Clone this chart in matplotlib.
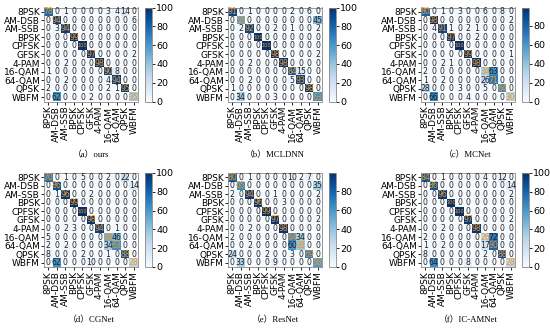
import matplotlib
matplotlib.use('Agg')
from matplotlib import pyplot as plt
import numpy as np

classes = ['8PSK', 'AM-DSB', 'AM-SSB', 'BPSK', 'CPFSK', 'GFSK',
           '4-PAM', '16-QAM', '64-QAM', 'QPSK', 'WBFM']

cm_ours = [
    [78, 0, 1, 0, 0, 0, 0, 3, 4, 14, 0],
    [0, 94, 0, 0, 0, 0, 0, 0, 0, 0, 6],
    [0, 3, 94, 0, 0, 0, 0, 0, 0, 0, 0],
    [0, 0, 0, 99, 0, 0, 0, 0, 0, 0, 0],
    [0, 0, 0, 0, 100, 0, 0, 0, 0, 0, 0],
    [0, 0, 0, 0, 0, 97, 0, 0, 0, 0, 2],
    [0, 0, 2, 0, 0, 0, 98, 0, 0, 0, 0],
    [1, 0, 0, 0, 0, 0, 0, 90, 8, 0, 0],
    [0, 0, 2, 0, 0, 0, 0, 4, 94, 0, 0],
    [2, 0, 0, 0, 0, 0, 0, 2, 1, 95, 0],
    [0, 62, 0, 0, 0, 2, 0, 0, 0, 0, 35],
]

cm_mcldnn = [
    [91, 0, 1, 0, 0, 0, 0, 2, 0, 6, 0],
    [0, 55, 0, 0, 0, 0, 0, 0, 0, 0, 45],
    [0, 2, 92, 0, 0, 2, 0, 1, 0, 0, 2],
    [0, 0, 0, 100, 0, 0, 0, 0, 0, 0, 0],
    [0, 0, 0, 0, 100, 0, 0, 0, 0, 0, 0],
    [0, 0, 0, 0, 0, 98, 0, 0, 0, 0, 2],
    [0, 0, 2, 0, 0, 0, 98, 0, 0, 0, 0],
    [0, 0, 0, 0, 0, 0, 0, 84, 15, 0, 0],
    [0, 0, 2, 0, 0, 0, 0, 5, 93, 0, 0],
    [1, 0, 0, 0, 0, 0, 0, 0, 0, 98, 0],
    [0, 34, 0, 0, 0, 3, 0, 0, 0, 0, 63],
]

cm_mcnet = [
    [80, 0, 1, 0, 3, 0, 0, 6, 0, 8, 0],
    [0, 98, 0, 0, 0, 0, 0, 0, 0, 0, 2],
    [0, 4, 91, 1, 0, 2, 1, 0, 0, 0, 0],
    [0, 0, 0, 97, 0, 0, 2, 0, 0, 0, 0],
    [0, 0, 0, 0, 100, 0, 0, 0, 0, 0, 0],
    [0, 0, 0, 0, 0, 99, 0, 0, 0, 0, 1],
    [0, 0, 2, 1, 0, 0, 98, 0, 0, 0, 0],
    [2, 0, 0, 0, 0, 0, 0, 34, 63, 0, 0],
    [1, 0, 2, 0, 0, 0, 0, 26, 71, 0, 0],
    [28, 0, 0, 0, 3, 0, 0, 5, 0, 64, 0],
    [0, 66, 0, 0, 0, 4, 0, 0, 0, 0, 30],
]

cm_cgnet = [
    [70, 0, 1, 0, 5, 0, 0, 2, 0, 22, 0],
    [0, 86, 0, 0, 0, 0, 0, 0, 0, 0, 14],
    [0, 1, 96, 0, 0, 2, 0, 0, 0, 0, 0],
    [0, 0, 0, 99, 0, 0, 0, 0, 0, 0, 0],
    [0, 0, 0, 0, 100, 0, 0, 0, 0, 0, 0],
    [0, 0, 0, 0, 0, 98, 0, 0, 0, 0, 0],
    [0, 0, 2, 3, 0, 0, 94, 0, 1, 0, 0],
    [5, 0, 0, 0, 0, 0, 0, 49, 46, 0, 0],
    [2, 0, 2, 0, 0, 0, 0, 34, 63, 0, 0],
    [8, 0, 0, 0, 2, 0, 0, 1, 0, 88, 0],
    [0, 62, 0, 0, 0, 10, 0, 0, 0, 0, 28],
]

cm_resnet = [
    [80, 0, 1, 0, 0, 0, 0, 10, 2, 7, 0],
    [0, 65, 0, 0, 0, 0, 0, 0, 0, 0, 35],
    [2, 0, 94, 0, 0, 1, 0, 0, 0, 0, 2],
    [0, 0, 0, 96, 0, 0, 3, 0, 0, 0, 0],
    [0, 0, 0, 0, 99, 0, 0, 0, 0, 0, 0],
    [0, 0, 0, 0, 0, 97, 0, 0, 0, 0, 2],
    [0, 0, 2, 0, 0, 0, 98, 0, 0, 0, 0],
    [2, 0, 0, 0, 0, 0, 0, 64, 34, 0, 0],
    [0, 0, 2, 0, 0, 0, 0, 60, 38, 0, 0],
    [24, 0, 0, 0, 2, 0, 0, 3, 0, 69, 0],
    [0, 33, 0, 0, 0, 9, 0, 0, 0, 0, 58],
]

cm_icamnet = [
    [84, 0, 1, 0, 0, 0, 0, 4, 0, 12, 0],
    [0, 86, 0, 0, 0, 0, 0, 0, 0, 0, 14],
    [0, 0, 96, 0, 0, 0, 0, 0, 0, 0, 2],
    [0, 0, 0, 100, 0, 0, 0, 0, 0, 0, 0],
    [0, 0, 0, 0, 100, 0, 0, 0, 0, 0, 0],
    [0, 0, 0, 0, 0, 97, 0, 0, 0, 0, 2],
    [0, 0, 2, 0, 0, 0, 98, 0, 0, 0, 0],
    [2, 0, 0, 0, 0, 0, 0, 26, 72, 0, 0],
    [1, 0, 2, 0, 0, 0, 0, 17, 80, 0, 0],
    [8, 0, 0, 0, 0, 0, 0, 2, 0, 88, 0],
    [0, 64, 0, 0, 0, 8, 0, 0, 0, 0, 28],
]

captions = ['（a）ours', '（b）MCLDNN', '（c）MCNet',
            '（d）CGNet', '（e）ResNet', '（f）IC-AMNet']
# colour scale tops (c and e never quite reach 100)
vmaxes = [100, 100, 99.5, 100, 99.5, 100]

W, H = 550, 330
FRAME = '#888888'


def drawMatrix(fig, cm, left, top, vmax, caption):
    """
    Draws one confusion matrix with its colorbar and caption.
    left/top are pixel positions of the matrix' upper-left corner.
    """
    size = 94
    ax = fig.add_axes([left / W, 1 - (top + size) / H, size / W, size / H])
    cm = np.array(cm)
    im = ax.imshow(cm, cmap='Blues', vmin=0, vmax=vmax, aspect='auto')
    n = len(classes)
    for i in range(n):
        for j in range(n):
            v = cm[i, j]
            color = '#f0961e' if i == j else '#222222'
            fs = 3.6 if v >= 100 else 5.6
            ax.text(j, i, str(v), ha='center', va='center',
                    fontsize=fs, color=color)
    ax.set_xticks(range(n))
    ax.set_yticks(range(n))
    ax.set_xticklabels(classes, rotation=90, fontsize=6.5)
    ax.set_yticklabels(classes, fontsize=6.5)
    ax.tick_params(length=2, width=0.6, pad=1)
    for s in ax.spines.values():
        s.set_color(FRAME)
        s.set_linewidth(0.6)

    cax = fig.add_axes([(left + 101) / W, 1 - (top + size) / H,
                        7 / W, size / H])
    cb = fig.colorbar(im, cax=cax)
    cb.set_ticks([t for t in range(0, 101, 20) if t <= vmax])
    cb.ax.tick_params(labelsize=6.8, length=2, width=0.6, pad=1)
    cb.outline.set_edgecolor(FRAME)
    cb.outline.set_linewidth(0.6)

    fig.text((left + 47) / W, 1 - (top + 147) / H, caption,
             ha='center', va='center', fontsize=6.3,
             family=['Liberation Serif', 'Noto Sans CJK SC'])


def main():
    fig = plt.figure(figsize=(W / 100, H / 100), dpi=100)
    mats = [cm_ours, cm_mcldnn, cm_mcnet, cm_cgnet, cm_resnet, cm_icamnet]
    lefts = [44, 228, 421]
    tops = [7.5, 173]
    for k, cm in enumerate(mats):
        drawMatrix(fig, cm, lefts[k % 3], tops[k // 3], vmaxes[k], captions[k])
    fig.savefig('out.png', dpi=100)


if __name__ == '__main__':
    main()
